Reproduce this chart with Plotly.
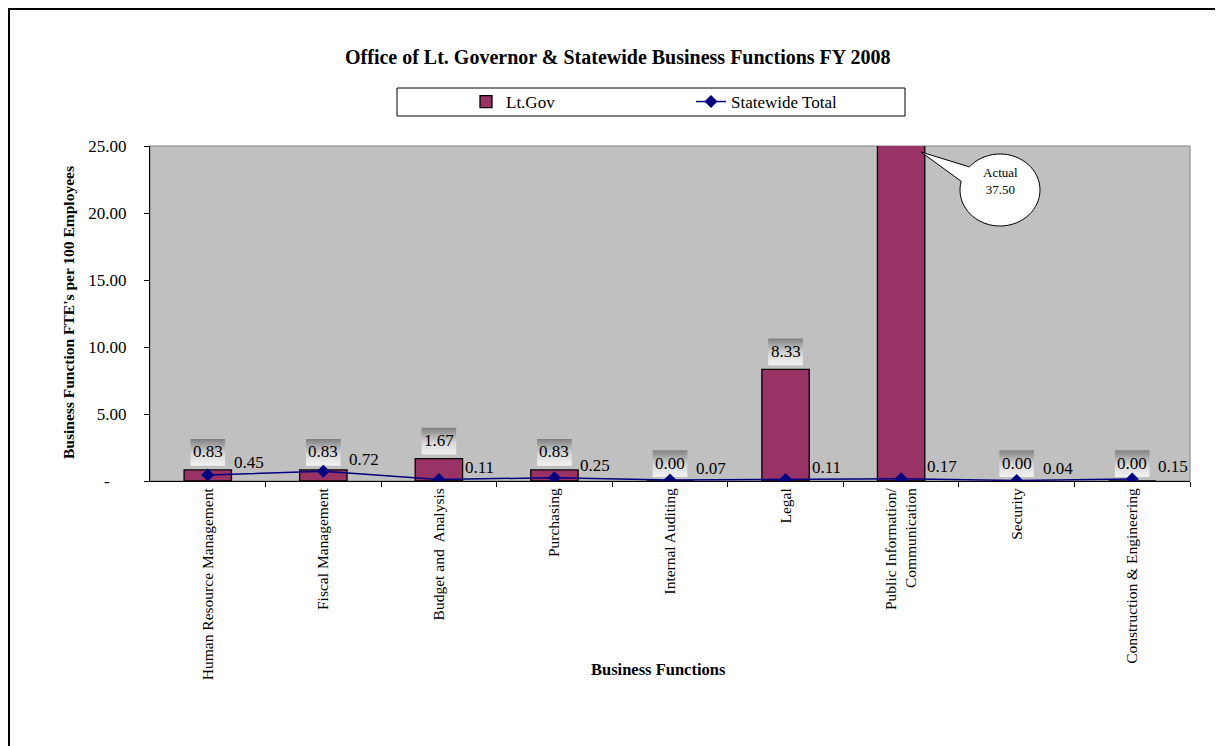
import math
import plotly.graph_objects as go

# ---- data ----
categories = [
    "Human Resource Management",
    "Fiscal Management",
    "Budget and  Analysis",
    "Purchasing",
    "Internal Auditing",
    "Legal",
    "Public Information/<br>Communication",
    "Security",
    "Construction & Engineering",
]
lt_gov = [0.83, 0.83, 1.67, 0.83, 0.00, 8.33, 37.50, 0.00, 0.00]
statewide = [0.45, 0.72, 0.11, 0.25, 0.07, 0.11, 0.17, 0.04, 0.15]
y_tickvals = [0, 5, 10, 15, 20, 25]
y_ticktext = ["-\u00a0\u00a0\u00a0\u00a0", "5.00", "10.00", "15.00", "20.00", "25.00"]
y_max = 25

FONT = "Liberation Serif, Times New Roman, serif"
OFF = 8                      # page body margin
W, H = 1223 - OFF, 746 - OFF
L, R, T, B = 150, 1190, 146, 481   # plot area in page pixels


def px(x):
    return (x - L) / (R - L)


def py(y):
    return (B - y) / (B - T)


xs = list(range(len(categories)))
fig = go.Figure()

fig.add_trace(go.Bar(
    x=xs, y=lt_gov, name="Lt.Gov", width=0.41,
    marker=dict(color="#993366", line=dict(color="#000000", width=1.3)),
    hoverinfo="skip",
))

# gradient label boxes above bars
for i, v in enumerate(lt_gov):
    if v > y_max:
        continue
    x0, x1 = i - 0.15, i + 0.15
    y0, y1 = v + 0.3, v + 2.3
    fig.add_trace(go.Scatter(
        x=[x0, x1, x1, x0, x0], y=[y0, y0, y1, y1, y0],
        mode="lines", fill="toself", line=dict(width=0, color="rgba(0,0,0,0)"),
        fillgradient=dict(type="vertical",
                          colorscale=[[0, "#f2f2f2"], [0.45, "#d8d8d8"], [1, "#808080"]]),
        showlegend=False, hoverinfo="skip",
    ))

fig.add_trace(go.Scatter(
    x=xs, y=statewide, name="Statewide Total", mode="lines+markers",
    line=dict(color="#000080", width=1.5),
    marker=dict(symbol="diamond", size=10, color="#000080"),
    hoverinfo="skip",
))

annotations = []
for i, v in enumerate(lt_gov):
    if v > y_max:
        continue
    annotations.append(dict(x=i, y=v, xref="x", yref="y", yshift=18, showarrow=False,
                            xanchor="center", yanchor="middle",
                            text=f"{v:.2f}", font=dict(family=FONT, size=17, color="#000")))
for i, s in enumerate(statewide):
    annotations.append(dict(x=i, y=s, xref="x", yref="y", xanchor="left", yanchor="middle",
                            xshift=24, yshift=12,
                            showarrow=False, text=f"{s:.2f}",
                            font=dict(family=FONT, size=17, color="#000")))

# title & axis titles
annotations.append(dict(x=px(618), y=py(57), xref="paper", yref="paper", showarrow=False,
                        xanchor="center", yanchor="middle",
                        text="<b>Office of Lt. Governor & Statewide Business Functions FY 2008</b>",
                        font=dict(family=FONT, size=20, color="#000")))
annotations.append(dict(x=px(658), y=py(669), xref="paper", yref="paper", showarrow=False,
                        xanchor="center", yanchor="middle",
                        text="<b>Business Functions</b>",
                        font=dict(family=FONT, size=16.5, color="#000")))
annotations.append(dict(x=px(68), y=py(313), xref="paper", yref="paper", showarrow=False,
                        xanchor="center", yanchor="middle",
                        textangle=-90, text="<b>Business Function FTE's per 100 Employees</b>",
                        font=dict(family=FONT, size=15.5, color="#000")))

# callout for clipped bar
peak = max(range(len(lt_gov)), key=lambda k: lt_gov[k])
cx, cy, rx, ry = 1000, 190, 40, 36
a1 = math.radians(-140)
a2 = math.radians(194)
pts = []
n = 60
for k in range(n + 1):
    t = a1 + (a2 - a1) * k / n
    pts.append((cx + rx * math.cos(t), cy + ry * math.sin(t)))
tip = (921, 152)
path = "M " + " L ".join(f"{px(x):.5f},{py(y):.5f}" for x, y in pts)
path += f" L {px(tip[0]):.5f},{py(tip[1]):.5f} Z"
annotations.append(dict(x=px(1000), y=py(181), xref="paper", yref="paper", showarrow=False,
                        align="center", xanchor="center", yanchor="middle",
                        text=f"Actual<br>{lt_gov[peak]:.2f}",
                        font=dict(family=FONT, size=13, color="#000")))

shapes = [
    # plot-area border (gray)
    dict(type="rect", xref="paper", yref="paper", x0=0, y0=0, x1=1, y1=1,
         line=dict(color="#808080", width=1), layer="below"),
    # outer chart border
    dict(type="rect", xref="paper", yref="paper", x0=px(9), y0=py(9), x1=px(1240), y1=py(770),
         line=dict(color="#000000", width=2)),
    # legend box
    dict(type="rect", xref="paper", yref="paper", x0=px(397), y0=py(88), x1=px(905), y1=py(116),
         line=dict(color="#000000", width=1)),
    # callout balloon
    dict(type="path", xref="paper", yref="paper", path=path,
         fillcolor="#ffffff", line=dict(color="#000000", width=1)),
]

fig.update_layout(
    width=W, height=H,
    margin=dict(l=L - OFF, r=W - (R - OFF), t=T - OFF, b=H - (B - OFF)),
    paper_bgcolor="#ffffff", plot_bgcolor="#c0c0c0",
    font=dict(family=FONT, size=15, color="#000"),
    showlegend=True,
    legend=dict(orientation="h", x=px(466), y=py(102), xanchor="left", yanchor="middle",
                bgcolor="rgba(0,0,0,0)", borderwidth=0, entrywidth=180, entrywidthmode="pixels",
                font=dict(family=FONT, size=17, color="#000")),
    xaxis=dict(range=[-0.5, len(categories) - 0.5], tickmode="array", tickvals=xs,
               ticktext=categories, tickangle=-90, ticks="", showgrid=False, zeroline=False,
               showline=True, linecolor="#000000", linewidth=1,
               tickfont=dict(family=FONT, size=15.5, color="#000"),
               minor=dict(tickmode="array", tickvals=[k + 0.5 for k in xs],
                          ticks="outside", ticklen=5, tickcolor="#000", showgrid=False)),
    yaxis=dict(range=[0, y_max], tickmode="array", tickvals=y_tickvals, ticktext=y_ticktext,
               ticks="outside", ticklen=5, tickcolor="#000", showgrid=False, zeroline=False,
               showline=True, linecolor="#000000", linewidth=1, ticklabelstandoff=14,
               tickfont=dict(family=FONT, size=17, color="#000")),
    annotations=annotations,
    shapes=shapes,
)

fig.write_html("out.html")
